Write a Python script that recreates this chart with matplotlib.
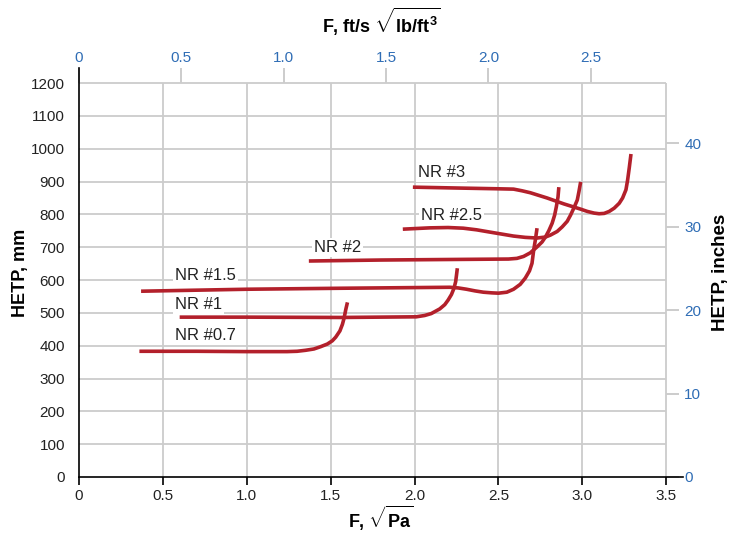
import numpy as np
import matplotlib
matplotlib.use('Agg')
import matplotlib.pyplot as plt

plt.rcParams['font.family'] = ['Liberation Sans', 'DejaVu Sans']
plt.rcParams['mathtext.fontset'] = 'custom'
plt.rcParams['mathtext.rm'] = 'Liberation Sans:bold'
plt.rcParams['mathtext.bf'] = 'Liberation Sans:bold'
plt.rcParams['mathtext.it'] = 'Liberation Sans:bold'

# F factor (sqrt Pa) vs HETP (mm)
nr07_x = [0.36, 0.70, 1.00, 1.24, 1.30, 1.35, 1.40, 1.44, 1.48, 1.51, 1.53, 1.555, 1.57, 1.58, 1.59, 1.60]
nr07_y = [383, 383, 382, 382, 383, 386, 390, 397, 405, 415, 426, 445, 465, 484, 510, 532]

nr1_x = [0.60, 1.00, 1.56, 2.01, 2.06, 2.10, 2.15, 2.18, 2.20, 2.22, 2.235, 2.245, 2.25, 2.255]
nr1_y = [487, 487, 486, 488, 492, 498, 512, 525, 539, 556, 575, 595, 615, 636]

nr15_x = [0.37, 1.00, 1.56, 2.21, 2.26, 2.31, 2.36, 2.41, 2.46, 2.50, 2.55, 2.59, 2.63, 2.66, 2.685, 2.70, 2.71, 2.72, 2.73]
nr15_y = [566, 572, 575, 578, 576, 572, 567, 563, 561, 560, 563, 572, 587, 606, 628, 651, 691, 722, 758]

nr2_x = [1.37, 1.80, 2.30, 2.56, 2.61, 2.65, 2.69, 2.73, 2.76, 2.78, 2.80, 2.82, 2.835, 2.845, 2.855, 2.86]
nr2_y = [658, 661, 663, 664, 666, 672, 683, 701, 716, 731, 750, 773, 798, 823, 853, 883]

nr25_x = [1.93, 2.09, 2.20, 2.29, 2.37, 2.45, 2.52, 2.59, 2.66, 2.73, 2.78, 2.81, 2.85, 2.88, 2.91, 2.93, 2.95, 2.97, 2.98, 2.99]
nr25_y = [755, 759, 760, 758, 753, 746, 740, 734, 730, 728, 731, 737, 748, 762, 779, 798, 820, 844, 870, 899]

nr3_x = [1.99, 2.29, 2.50, 2.59, 2.64, 2.69, 2.74, 2.79, 2.84, 2.89, 2.94, 2.99, 3.03, 3.07, 3.10, 3.13, 3.16, 3.19, 3.22, 3.24, 3.26, 3.27, 3.28, 3.29]
nr3_y = [883, 880, 878, 877, 872, 866, 858, 850, 841, 832, 824, 816, 809, 804, 802, 803, 809, 819, 834, 850, 875, 905, 943, 984]

curves = [(nr07_x, nr07_y), (nr1_x, nr1_y), (nr15_x, nr15_y),
          (nr2_x, nr2_y), (nr25_x, nr25_y), (nr3_x, nr3_y)]
labels = ['NR #0.7', 'NR #1', 'NR #1.5', 'NR #2', 'NR #2.5', 'NR #3']
label_x = [0.57, 0.57, 0.57, 1.40, 2.04, 2.02]
label_y = [432, 527, 615, 698, 798, 929]

x_ticks = [0, 0.5, 1.0, 1.5, 2.0, 2.5, 3.0, 3.5]
x_ticklabels = ['0', '0.5', '1.0', '1.5', '2.0', '2.5', '3.0', '3.5']
y_ticks = list(range(0, 1300, 100))
top_ticks = [0, 0.5, 1.0, 1.5, 2.0, 2.5]
top_ticklabels = ['0', '0.5', '1.0', '1.5', '2.0', '2.5']
right_ticks = [0, 10, 20, 30, 40]

F_CONV = 1.2199   # sqrt(Pa) per ft/s sqrt(lb/ft3)
MM_IN = 25.4

red = '#b3202b'
blue = '#2f6db5'
grid = '#cccccc'
txt = '#222222'

fig = plt.figure(figsize=(7.32, 5.33), dpi=100)
ax = fig.add_axes([79/732, 56/533, 604/732, 409/533])
ax.set_xlim(0, 3.6)
ax.set_ylim(0, 1246)

# grid only inside 0-3.5 / 0-1200
ax.hlines(y_ticks[1:], 0, 3.5, color=grid, lw=1.3, zorder=1)
ax.vlines(x_ticks[1:], 0, 1200, color=grid, lw=1.3, zorder=1)

for (cx, cy) in curves:
    ax.plot(cx, cy, color=red, lw=2.6, solid_capstyle='butt', solid_joinstyle='round', zorder=3)

for lab, lx, ly in zip(labels, label_x, label_y):
    ax.text(lx, ly, lab, fontsize=12, color=txt, ha='left', va='center', zorder=4,
            bbox=dict(facecolor='white', edgecolor='none', pad=1.5))

for s in ['top', 'right']:
    ax.spines[s].set_visible(False)
ax.spines['left'].set_color('black')
ax.spines['bottom'].set_color('black')
ax.spines['left'].set_linewidth(1.2)
ax.spines['bottom'].set_linewidth(1.2)

ax.set_xticks(x_ticks)
ax.set_xticklabels(x_ticklabels)
ax.set_yticks(y_ticks)
ax.tick_params(axis='x', direction='out', length=6, width=1.2, color='black', labelsize=11, labelcolor=txt, pad=3)
ax.tick_params(axis='y', length=0, labelsize=11, labelcolor=txt, pad=10)

ax.set_xlabel(r'F, $\sqrt{\mathrm{Pa}}$', fontsize=13, fontweight='bold', labelpad=0)
ax.set_ylabel('HETP, mm', fontsize=13, fontweight='bold')
ax.yaxis.set_label_coords(-0.083, 0.5)

# top axis: F in ft/s sqrt(lb/ft3)
top = ax.secondary_xaxis('top', functions=(lambda x: x / F_CONV, lambda x: x * F_CONV))
top.set_xticks(top_ticks)
top.set_xticklabels(top_ticklabels)
top.spines['top'].set_visible(False)
top.tick_params(direction='in', length=11, width=1.2, color='#c4c4c4', labelsize=11, labelcolor=blue, pad=2)
top.set_xlabel(r'F, ft/s $\sqrt{\mathrm{lb/ft}^3}$', fontsize=13, fontweight='bold', labelpad=13)

# right axis: HETP in inches, sitting on x = 3.5
right = ax.secondary_yaxis(3.5 / 3.6, functions=(lambda y: y / MM_IN, lambda y: y * MM_IN))
right.set_yticks(right_ticks)
right.spines['right'].set_visible(False)
right.tick_params(direction='out', length=9, width=1.2, color='#c4c4c4', labelsize=11, labelcolor=blue, pad=4)
right.set_ylabel('HETP, inches', fontsize=13.5, fontweight='bold', labelpad=8)

fig.savefig('out.png', dpi=100)
